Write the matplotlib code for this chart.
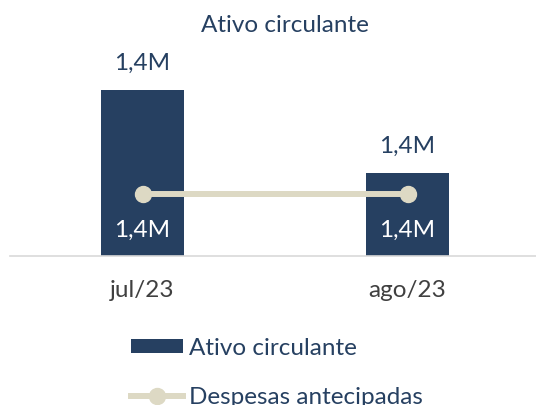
import matplotlib.pyplot as plt
from matplotlib.lines import Line2D
from matplotlib.patches import Patch

plt.rcParams['font.family'] = ['Lato', 'DejaVu Sans']

months = ["jul/23", "ago/23"]
ativo = [1.44e6, 1.40e6]
despesas = [1.39e6, 1.39e6]
ymin = 1.36e6

NAVY = "#264061"
BEIGE = "#DDD9C4"
FS = 17.5

def fmt(v):
    return f"{v / 1e6:.1f}M".replace(".", ",")

fig = plt.figure(figsize=(5.36, 4.05), dpi=100)
W, H = 536, 405
# axes: x 10..540 px, y 60..256 px (from top)
ax = fig.add_axes([10 / W, 1 - 256 / H, 530 / W, 196 / H])
x = list(range(len(months)))
ax.bar(x, [a - ymin for a in ativo], bottom=ymin, width=0.31, color=NAVY, zorder=2)
ax.plot(x, despesas, color=BEIGE, lw=4.3, marker="o", ms=11.5, zorder=3)

ax.set_xlim(-0.5, 1.5)
ax.set_ylim(ymin, ymin + 0.08e6 * 196 / 166)

for i, v in enumerate(ativo):
    ax.annotate(fmt(v), (i, v), xytext=(0, 19), textcoords="offset points",
                ha="center", va="center", fontsize=FS, color=NAVY)
for i, v in enumerate(despesas):
    ax.annotate(fmt(v), (i, v), xytext=(0, -26), textcoords="offset points",
                ha="center", va="center", fontsize=FS, color="white", zorder=4)

for s in ["top", "right", "left"]:
    ax.spines[s].set_visible(False)
ax.spines["bottom"].set_color("#D9D9D9")
ax.spines["bottom"].set_linewidth(1.2)
ax.set_yticks([])
ax.set_xticks(x)
ax.set_xticklabels(months, fontsize=FS, color="#404040")
ax.tick_params(axis="x", length=0, pad=17)

fig.text(285 / W, 1 - 25 / H, "Ativo circulante", ha="center", va="center",
         fontsize=FS, color=NAVY)

handles = [Patch(facecolor=NAVY, linewidth=0, label="Ativo circulante"),
           Line2D([], [], color=BEIGE, lw=4.3, marker="o", ms=11.5, label="Despesas antecipadas")]
fig.legend(handles=handles, loc="upper left", bbox_to_anchor=(131 / W, 1 - 338 / H),
           frameon=False, fontsize=FS, labelcolor=NAVY, handlelength=2.15,
           handleheight=0.5, handletextpad=0.25, labelspacing=1.15, borderaxespad=0,
           borderpad=0)

fig.savefig("out.png", dpi=100)
